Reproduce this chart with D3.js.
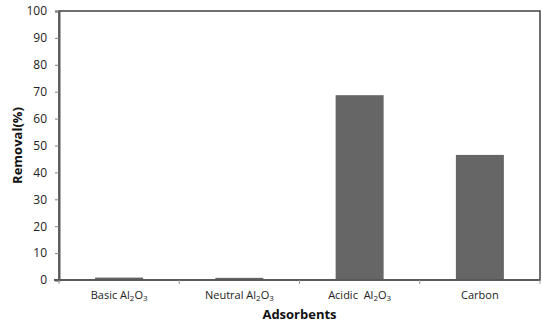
<!DOCTYPE html>
<html><head><meta charset="utf-8">
<script src="https://cdn.jsdelivr.net/npm/d3@7"></script>
<style>body{margin:0;background:#fff}svg{display:block}text{font-family:"Open Sans","Liberation Sans",sans-serif;white-space:pre}</style>
</head><body>
<svg id="c" width="542" height="324"></svg>
<script>
const categories = [
  [{t:"Basic Al"},{t:"2",sub:true},{t:"O"},{t:"3",sub:true}],
  [{t:"Neutral Al"},{t:"2",sub:true},{t:"O"},{t:"3",sub:true}],
  [{t:"Acidic  Al"},{t:"2",sub:true},{t:"O"},{t:"3",sub:true}],
  [{t:"Carbon"}]
];
const categoryKeys = ["Basic","Neutral","Acidic","Carbon"];
const removal = [0.9, 0.8, 68.7, 46.5];
const yTicks = [0,10,20,30,40,50,60,70,80,90,100];

const svg = d3.select("#c");
const L=59, R=540, T=11, B=280;
const xb = d3.scaleBand().domain(categoryKeys).range([L,R]);
const y = d3.scaleLinear().domain([0,100]).range([B,T]);

// bars
svg.selectAll("rect.bar").data(removal).join("rect")
  .attr("x",(d,i)=>xb(categoryKeys[i]) + xb.bandwidth()/2 - 24)
  .attr("width",48)
  .attr("y",d=>y(d)).attr("height",d=>B-y(d))
  .attr("fill","#666666");

// plot frame
svg.append("rect").attr("x",L).attr("y",T).attr("width",R-L).attr("height",B-T)
  .attr("fill","none").attr("stroke","#404040").attr("stroke-width",1.5);

// y axis
const ya = svg.append("g").attr("transform",`translate(${L},0)`)
  .call(d3.axisLeft(y).tickValues(yTicks).tickSize(4).tickPadding(8));
ya.select(".domain").attr("stroke","#595959").attr("stroke-width",2);
ya.selectAll(".tick line").attr("stroke","#808080");
ya.selectAll("text").attr("font-size",12).attr("fill","#222");

// x axis
const xa = svg.append("g").attr("transform",`translate(0,${B})`);
xa.append("line").attr("x1",L-5).attr("x2",R).attr("y1",0).attr("y2",0).attr("stroke","#595959").attr("stroke-width",2);
const bounds = categoryKeys.map(k=>xb(k)).concat([R]);
xa.selectAll("line.t").data(bounds).join("line").attr("class","t")
  .attr("x1",d=>d).attr("x2",d=>d).attr("y1",0).attr("y2",4).attr("stroke","#999");

const lab = xa.selectAll("text.cat").data(categories).join("text").attr("class","cat")
  .attr("x",(d,i)=>xb(categoryKeys[i])+xb.bandwidth()/2).attr("y",19)
  .attr("text-anchor","middle").attr("font-size",11).attr("fill","#222")
  .attr("xml:space","preserve");
lab.each(function(parts){
  const t=d3.select(this);
  let prevSub=false;
  parts.forEach(p=>{
    const s=t.append("tspan").text(p.t);
    if(p.sub) s.attr("font-size",8);
    s.attr("dy", p.sub && !prevSub ? 2 : (!p.sub && prevSub ? -2 : 0));
    prevSub=p.sub;
  });
});

svg.append("text").attr("x",(L+R)/2).attr("y",319).attr("text-anchor","middle")
  .attr("font-size",13).attr("font-weight","bold").attr("fill","#111").text("Adsorbents");
svg.append("text").attr("transform",`translate(22,${(T+B)/2}) rotate(-90)`).attr("text-anchor","middle")
  .attr("font-size",13).attr("font-weight","bold").attr("fill","#111").text("Removal(%)");
</script>
</body></html>
